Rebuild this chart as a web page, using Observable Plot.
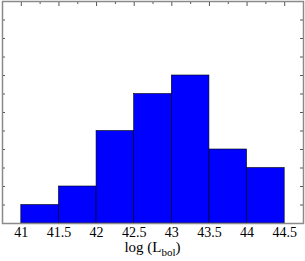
<!DOCTYPE html>
<html>
<head>
<meta charset="utf-8">
<script src="https://cdn.jsdelivr.net/npm/d3@7"></script>
<script src="https://cdn.jsdelivr.net/npm/@observablehq/plot@0.6"></script>
<style>
  html, body { margin: 0; padding: 0; background: #fff; }
  #chart { width: 305px; height: 261px; }
</style>
</head>
<body>
<div id="chart"></div>
<script>
// Bin edges and counts
const binStart = [41, 41.5, 42, 42.5, 43, 43.5, 44];
const binEnd   = [41.5, 42, 42.5, 43, 43.5, 44, 44.5];
const counts   = [1, 2, 5, 7, 8, 4, 3];
const xTickLabels = [41, 41.5, 42, 42.5, 43, 43.5, 44, 44.5];
const xMinorTicks = [41.25, 41.75, 42.25, 42.75, 43.25, 43.75, 44.25];
const yTicks = [1, 2, 3, 4, 5, 6, 7, 8, 9, 10, 11];

const bins = binStart.map((s, i) => ({x1: s, x2: binEnd[i], n: counts[i]}));

const W = 305, H = 261, mL = 2, mR = 2, mT = 1, mB = 38;
const innerW = W - mL - mR, innerH = H - mT - mB;

const font = "'Liberation Serif', 'DejaVu Serif', serif";
const tickColor = "#555";

const plot = Plot.plot({
  width: W,
  height: H,
  marginLeft: mL,
  marginRight: mR,
  marginTop: mT,
  marginBottom: mB,
  style: {fontFamily: font, fontSize: "14px", color: "#000", background: "#fff"},
  x: {domain: [40.75, 44.75]},
  y: {domain: [0, 12], axis: null},
  marks: [
    Plot.rectY(bins, {x1: "x1", x2: "x2", y: "n", fill: "#0000ff", stroke: "#000", strokeWidth: 0.6}),
    Plot.axisX({anchor: "bottom", ticks: xTickLabels, tickSize: 0, tickPadding: 4, tickFormat: d => String(d), label: null, fontSize: 14, fill: "#000"}),
    // inward ticks on top edge
    Plot.ruleX(xTickLabels, {x: d => d, stroke: tickColor, insetBottom: innerH - 5}),
    Plot.ruleX(xMinorTicks, {x: d => d, stroke: tickColor, insetBottom: innerH - 3}),
    // inward ticks on left and right edges
    Plot.ruleY(yTicks, {y: d => d, stroke: tickColor, insetRight: innerW - 3}),
    Plot.ruleY(yTicks, {y: d => d, stroke: tickColor, insetLeft: innerW - 3}),
    Plot.frame({stroke: "#8a8a8a", strokeWidth: 1.5})
  ]
});

// Axis title with subscript
const svg = d3.select(plot);
const t = svg.append("text")
  .attr("x", 152.5)
  .attr("y", 252)
  .attr("text-anchor", "middle")
  .attr("font-family", font)
  .attr("font-size", 15)
  .attr("fill", "#000");
t.append("tspan").text("log (L");
t.append("tspan").attr("font-size", 11).attr("dy", 4).text("bol");
t.append("tspan").attr("dy", -4).text(")");

document.getElementById("chart").append(plot);
</script>
</body>
</html>
